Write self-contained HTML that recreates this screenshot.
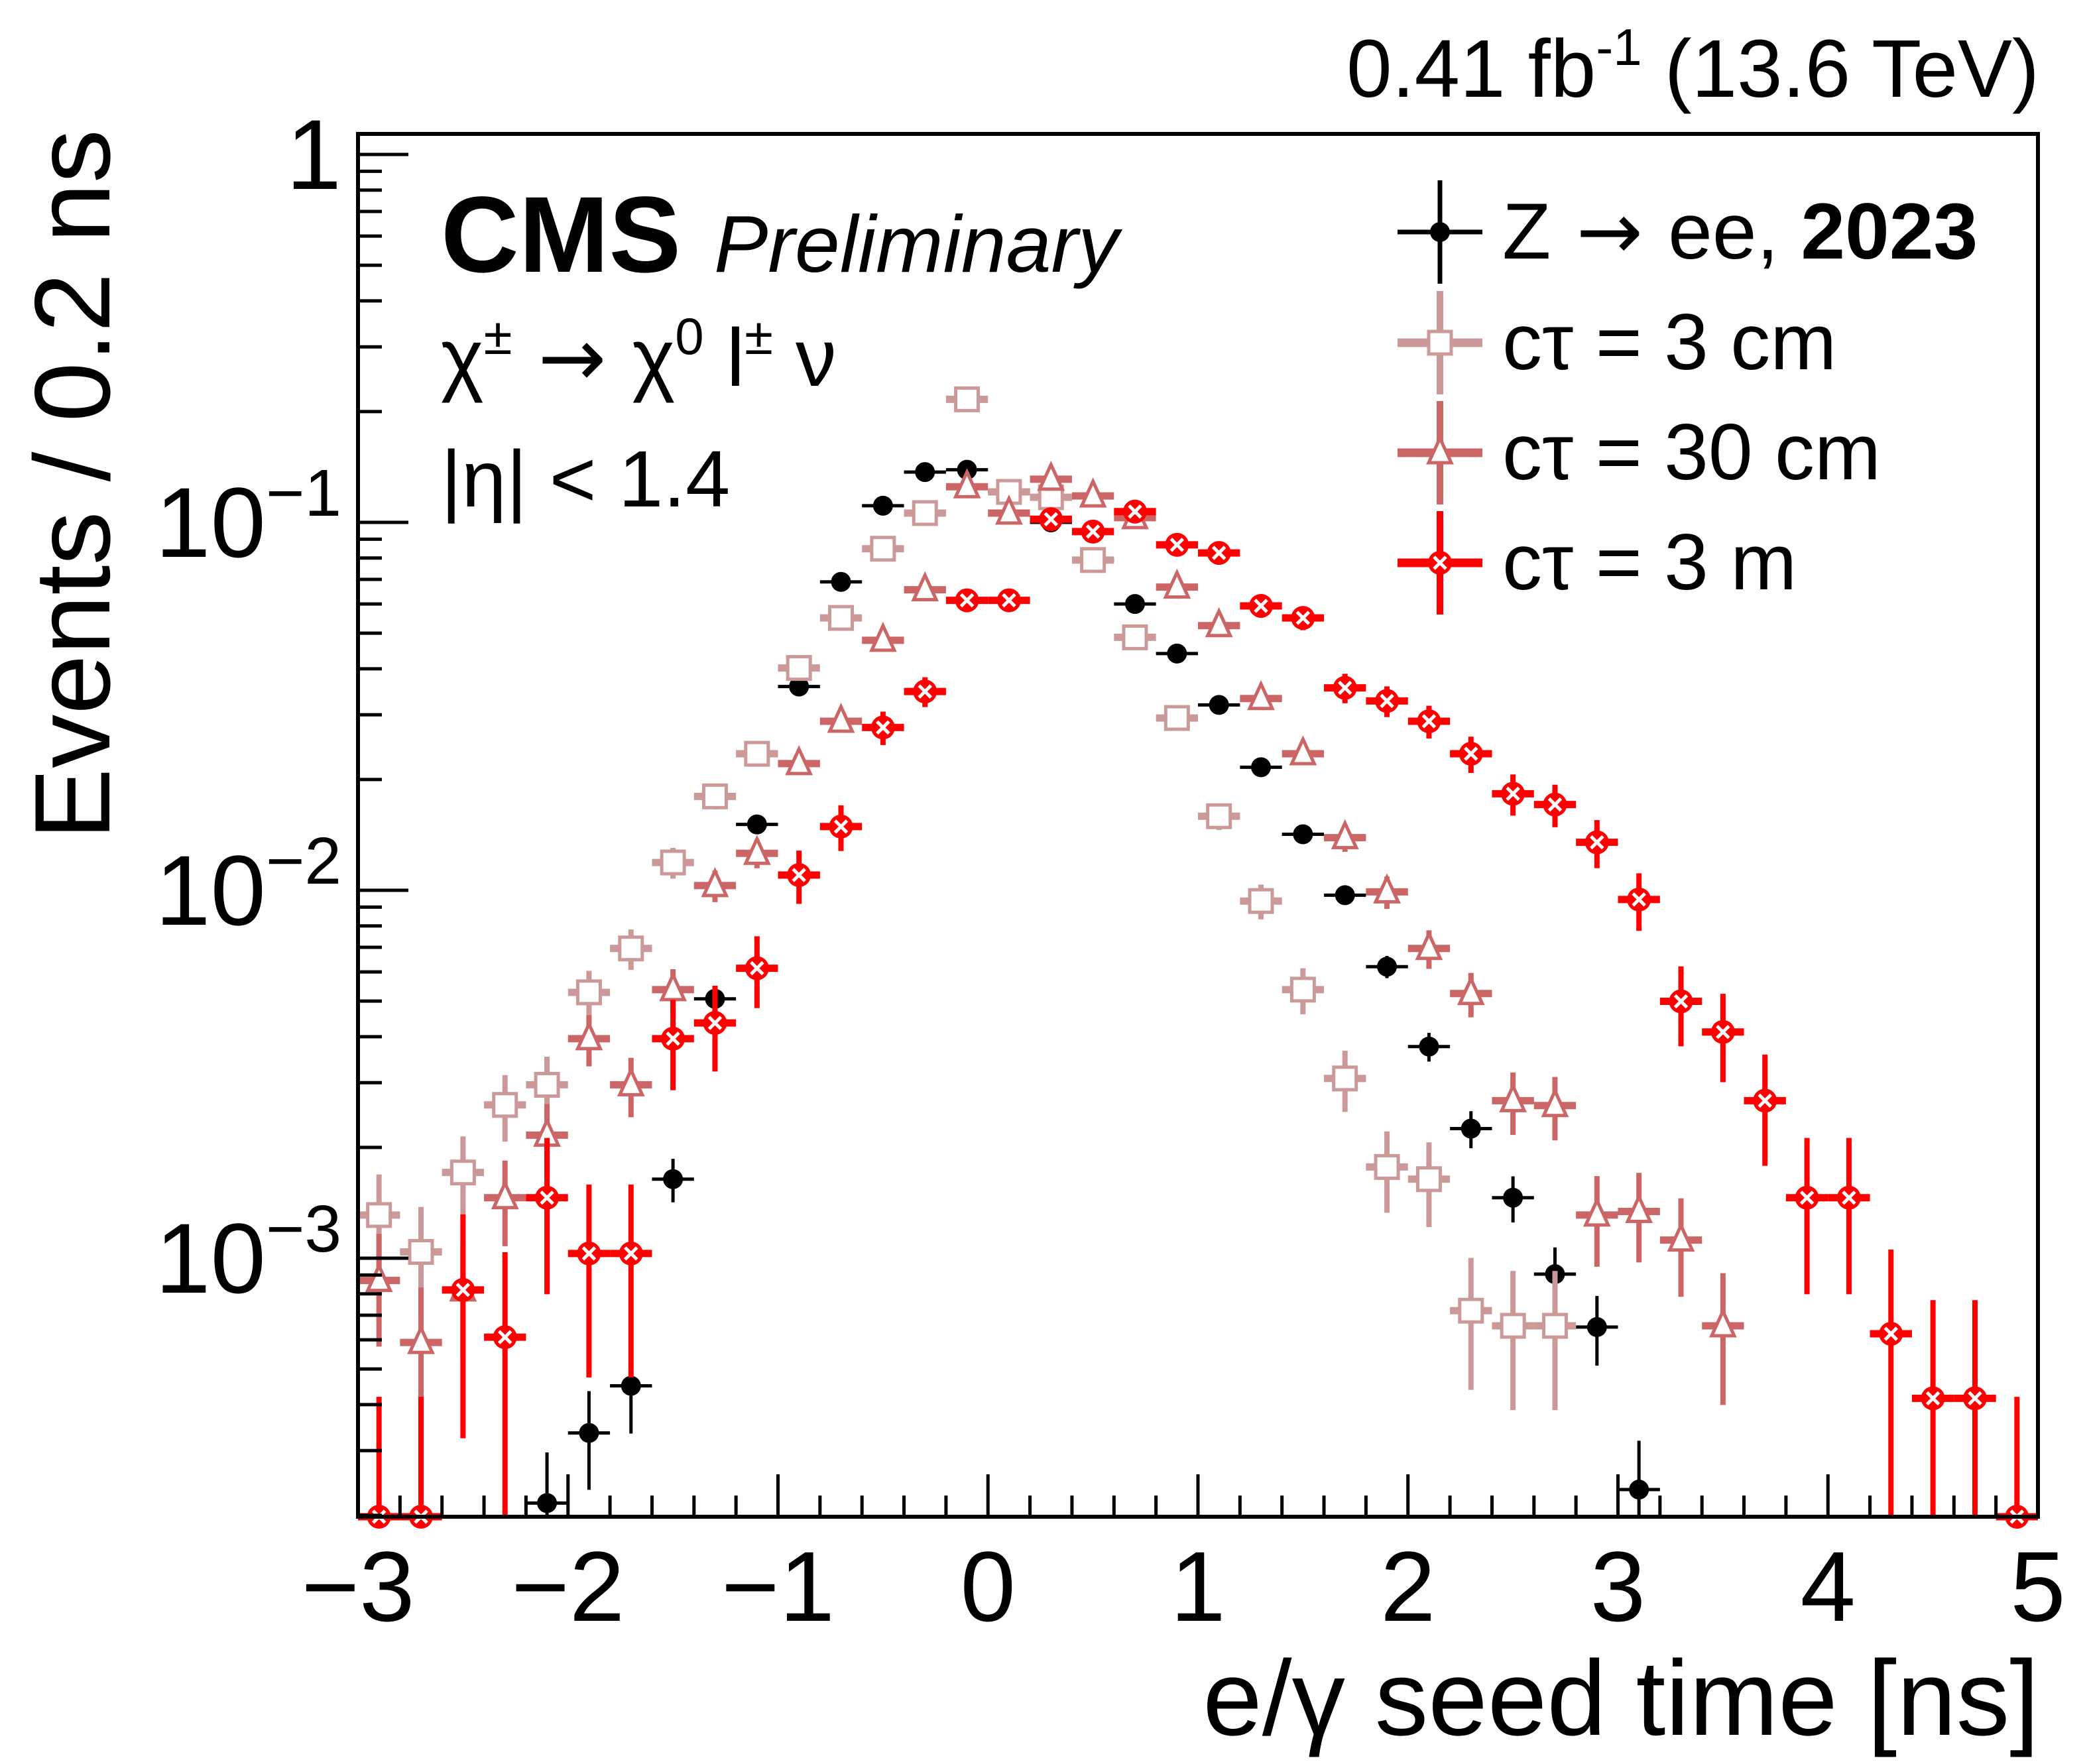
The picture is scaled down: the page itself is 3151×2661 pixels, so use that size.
<!DOCTYPE html>
<html><head><meta charset="utf-8"><style>
html,body{margin:0;padding:0;background:#fff;}
svg{display:block;font-family:"Liberation Sans",sans-serif;}
</style></head><body>
<svg id="chart" width="3151" height="2661" viewBox="0 0 3151 2661" xmlns="http://www.w3.org/2000/svg">
<rect x="0" y="0" width="3151" height="2661" fill="#fff"/>
<g id="marks"></g>
<g id="axes"></g>
<text x="3076" y="146" text-anchor="end" font-size="123">0.41 fb<tspan dy="-48" font-size="78">-1</tspan><tspan dy="48"> (13.6 TeV)</tspan></text>
<text x="665" y="410" font-size="163" font-weight="bold">CMS</text>
<text x="1077" y="410" font-size="122" font-style="italic">Preliminary</text>
<text x="665" y="582" font-size="123">χ<tspan dy="-48" font-size="78">±</tspan><tspan dy="48" font-family="DejaVu Sans"> → </tspan><tspan>χ</tspan><tspan dy="-48" font-size="78">0</tspan><tspan dy="48"> l</tspan><tspan dy="-48" font-size="78">±</tspan><tspan dy="48"> ν</tspan></text>
<text x="665" y="764" font-size="121">|η| &lt; 1.4</text>
<text transform="translate(165,731) rotate(-90)" font-size="162" text-anchor="middle">Events / 0.2 ns</text>
<text x="3076" y="2617" font-size="161" text-anchor="end">e/γ seed time [ns]</text>
<g id="legend"></g>
</svg>
<script>
// ----- data -----
const binCenters = [-2.9,-2.7,-2.5,-2.3,-2.1,-1.9,-1.7,-1.5,-1.3,-1.1,-0.9,-0.7,-0.5,-0.3,-0.1,0.1,0.3,0.5,0.7,0.9,1.1,1.3,1.5,1.7,1.9,2.1,2.3,2.5,2.7,2.9,3.1,3.3,3.5,3.7,3.9,4.1,4.3,4.5,4.7,4.9];
const zeeValues = [null,null,null,null,2.16e-4,3.35e-4,4.5e-4,1.64e-3,5.07e-3,0.0151,0.0358,0.0689,0.111,0.137,0.139,0.122,0.100,0.079,0.060,0.044,0.0319,0.0216,0.0142,0.0097,0.0062,0.00376,0.00225,0.00146,9.05e-4,6.5e-4,2.35e-4,null,null,null,null,null,null,null,null,null];
const ct3cmValues = [1.31e-3,1.04e-3,1.71e-3,2.61e-3,2.96e-3,5.28e-3,6.95e-3,0.0119,0.018,0.0235,0.0402,0.055,0.0848,0.106,0.216,0.121,0.117,0.079,0.0487,0.0294,0.0159,0.00935,0.00537,0.00308,0.00177,0.00164,7.2e-4,6.55e-4,6.55e-4,null,null,null,null,null,null,null,null,null,null,null];
const ct30cmValues = [8.7e-4,5.9e-4,8.2e-4,1.46e-3,2.16e-3,3.95e-3,2.96e-3,5.37e-3,0.0103,0.0126,0.0221,0.0288,0.0478,0.0656,0.125,0.106,0.131,0.118,0.103,0.0667,0.0524,0.0332,0.0235,0.0139,0.0099,0.00695,0.00524,0.00268,0.0026,0.00131,0.00134,1.12e-3,6.55e-4,null,null,null,null,null,null,null];
const ct3mValues = [0,0,8.2e-4,6.1e-4,1.46e-3,1.03e-3,1.03e-3,3.95e-3,4.36e-3,6.14e-3,0.011,0.0149,0.0277,0.0347,0.0614,0.0614,0.102,0.0944,0.107,0.0869,0.0826,0.0593,0.055,0.0355,0.0327,0.0288,0.0235,0.0183,0.0171,0.0135,0.00944,0.00499,0.00412,0.00268,0.00146,0.00146,6.23e-4,4.16e-4,4.16e-4,0];
const eventWeights = [3e-5,1.1e-4,1.0e-4,3e-4];
const xTickLabels = ["−3","−2","−1","0","1","2","3","4","5"];
const xTickValues = [-3,-2,-1,0,1,2,3,4,5];
const yDecades = [0,-1,-2,-3];

// ----- axes -----
const X0=540, X1=3074, Y0=202, Y1=2288;
const XMIN=-3, XMAX=5;
const YTOP=233, DEC=555;
const LOGMIN=-(Y1-YTOP)/DEC;
const LOGMAX=(YTOP-Y0)/DEC;
function xPix(t){return X0+(t-XMIN)/(XMAX-XMIN)*(X1-X0);}
function yPix(v){if(!(v>0))return Y1;const l=Math.log10(v);return Math.max(Y0,Math.min(Y1,YTOP-l*DEC));}
const NS="http://www.w3.org/2000/svg";
function mk(tag,attrs,parent){const e=document.createElementNS(NS,tag);for(const k in attrs)e.setAttribute(k,attrs[k]);parent.appendChild(e);return e;}
const axes=document.getElementById('axes');
const marks=document.getElementById('marks');
const legend=document.getElementById('legend');

let fr=mk('rect',{x:X0,y:Y0,width:X1-X0,height:Y1-Y0,fill:'none',stroke:'#000','stroke-width':6},axes);


for(let t=-3;t<=5.0001;t+=0.2){
  const major=Math.abs(t-Math.round(t))<1e-6;
  const x=xPix(t);
  let tk=mk('line',{x1:x,x2:x,y1:Y1,y2:Y1-(major?64:32),stroke:'#000','stroke-width':5},axes);
  
  
}
xTickValues.forEach((v,i)=>{
  let tl=mk('text',{x:xPix(v),y:2445,'font-size':150,'text-anchor':'middle'},axes);
  tl.textContent=xTickLabels[i];
  
  
});
for(let d=0;d>=-4;d--){
  for(let m=1;m<=9;m++){
    const v=m*Math.pow(10,d);
    const l=Math.log10(v);
    if(l<LOGMIN||l>LOGMAX)continue;
    const y=YTOP-l*DEC;
    let tk=mk('line',{x1:X0,x2:X0+(m===1?76:36),y1:y,y2:y,stroke:'#000','stroke-width':5},axes);
    
    
  }
}
yDecades.forEach(d=>{
  const y=YTOP-d*DEC;
  let tl=mk('text',{x:X0-25,y:y+52,'font-size':150,'text-anchor':'end'},axes);
  if(d===0){tl.textContent='1';}
  else{
    tl.textContent='10';
    let sp=mk('tspan',{dy:-62,'font-size':100},tl);
    sp.textContent='−'+(-d);
  }
  
  
});

// ----- series -----
const seriesList=[
 {vals:zeeValues,color:'#000',marker:'circle',name:'zee',w:eventWeights[0],lw:5,hw:5},
 {vals:ct3cmValues,color:'#cc9999',marker:'square',name:'ctau-3cm',w:eventWeights[1],lw:8,hw:11},
 {vals:ct30cmValues,color:'#cc6666',marker:'triangle',name:'ctau-30cm',w:eventWeights[2],lw:8,hw:11},
 {vals:ct3mValues,color:'#ff0000',marker:'xcircle',name:'ctau-3m',w:eventWeights[3],lw:8,hw:11}
];
function drawMarker(g,type,x,y,color){
  let e;
  if(type==='circle'){e=mk('circle',{cx:x,cy:y,r:15,fill:color},g);}
  else if(type==='square'){e=mk('rect',{x:x-17,y:y-17,width:34,height:34,fill:'#fff',stroke:color,'stroke-width':5},g);}
  else if(type==='triangle'){e=mk('polygon',{points:`${x},${y-22} ${x+17},${y+15} ${x-17},${y+15}`,fill:'#fff',stroke:color,'stroke-width':5},g);}
  else{
    e=mk('circle',{cx:x,cy:y,r:18,fill:color},g);
    mk('path',{d:`M${x-9},${y-9}L${x+9},${y+9}M${x+9},${y-9}L${x-9},${y+9}`,stroke:'#fff','stroke-width':5},g);
  }
  return e;
}
seriesList.forEach(s=>{
  const g=mk('g',{},marks);
  
  
  s.vals.forEach((v,i)=>{
    if(v===null)return;
    const c=binCenters[i];
    const x=xPix(c);
    const y=yPix(v);
    let up,dn;
    if(v>0){const n=v/s.w;const e=Math.sqrt(n)*s.w;up=v+e;dn=v-e;}
    else{up=1.4*s.w;dn=0;}
    const pg=mk('g',{},g);
    
    
    mk('line',{x1:x,x2:x,y1:yPix(up),y2:yPix(dn),stroke:s.color,'stroke-width':s.lw},pg);
    mk('line',{x1:xPix(c-0.1),x2:xPix(c+0.1),y1:y,y2:y,stroke:s.color,'stroke-width':s.hw},pg);
    drawMarker(pg,s.marker,x,y,s.color);
  });
});

// ----- legend -----
const legendLabels=['Z','cτ = 3 cm','cτ = 30 cm','cτ = 3 m'];
const legendRowsY=[350,517,683,849];
seriesList.forEach((s,i)=>{
  const g=mk('g',{},legend);
  
  
  const cx=2172,cy=legendRowsY[i];
  mk('line',{x1:cx,x2:cx,y1:cy-78,y2:cy+78,stroke:s.color,'stroke-width':s.lw+2},g);
  mk('line',{x1:2108,x2:2236,y1:cy,y2:cy,stroke:s.color,'stroke-width':s.hw+2},g);
  drawMarker(g,s.marker,cx,cy,s.color);
  const t=mk('text',{x:2266,y:cy+40,'font-size':120},g);
  t.textContent=legendLabels[i];
  if(i===0){
    const a=mk('tspan',{'font-family':'DejaVu Sans'},t);a.textContent=' → ';
    const e2=mk('tspan',{},t);e2.textContent='ee, ';
    const b=mk('tspan',{'font-weight':'bold'},t);b.textContent='2023';
  }
});
</script>
</body></html>
